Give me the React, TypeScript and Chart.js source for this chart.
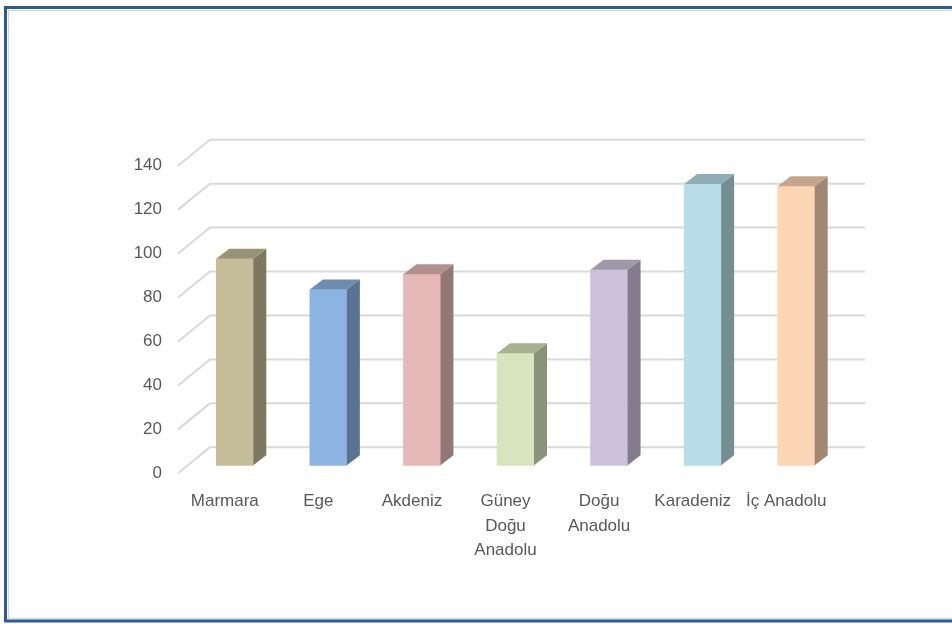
import React, { useEffect, useRef } from "react";
import { Chart, registerables } from "chart.js";

Chart.register(...registerables);

const categories: (string | string[])[] = [
  "Marmara",
  "Ege",
  "Akdeniz",
  ["Güney", "Doğu", "Anadolu"],
  ["Doğu", "Anadolu"],
  "Karadeniz",
  "İç Anadolu",
];
const values: number[] = [94, 80, 87, 51, 89, 128, 127];
const frontColors: string[] = [
  "#c4bd97",
  "#8db3e2",
  "#e6b9b8",
  "#d7e4bd",
  "#ccc1da",
  "#b7dee8",
  "#fcd5b5",
];
const yTicks: number[] = [0, 20, 40, 60, 80, 100, 120, 140];

// 3D geometry (pixels)
const WALL_DX = 32;
const WALL_DY = -26;
const BAR_SHIFT_X = 10;
const BAR_SHIFT_Y = -8;
const BAR_DX = 13;
const BAR_DY = -10;

function shade(hex: string, f: number): string {
  const n = parseInt(hex.slice(1), 16);
  const r = Math.round(((n >> 16) & 255) * f);
  const g = Math.round(((n >> 8) & 255) * f);
  const b = Math.round((n & 255) * f);
  return `rgb(${r},${g},${b})`;
}

const threeDPlugin = {
  id: "threeD",
  beforeDraw(chart: any) {
    const ctx = chart.ctx;
    ctx.save();
    ctx.fillStyle = "#ffffff";
    ctx.fillRect(0, 0, chart.width, chart.height);
    // frame
    ctx.strokeStyle = "#c9d5e6";
    ctx.lineWidth = 1;
    ctx.strokeRect(8.5, 10.5, 1000, 608);
    ctx.strokeStyle = "#2f5a91";
    ctx.lineWidth = 3;
    ctx.strokeRect(5.5, 7.5, 1000, 613.5);
    // walls / gridlines
    const y = chart.scales.y;
    const area = chart.chartArea;
    ctx.strokeStyle = "#d9d9d9";
    ctx.lineWidth = 2;
    for (const v of yTicks) {
      const py = y.getPixelForValue(v);
      ctx.beginPath();
      ctx.moveTo(area.left, py);
      ctx.lineTo(area.left + WALL_DX, py + WALL_DY);
      ctx.lineTo(area.right + WALL_DX, py + WALL_DY);
      ctx.stroke();
    }
    ctx.restore();
  },
  beforeDatasetsDraw(chart: any) {
    chart.ctx.save();
    chart.ctx.translate(BAR_SHIFT_X, BAR_SHIFT_Y);
  },
  afterDatasetsDraw(chart: any) {
    const ctx = chart.ctx;
    const meta = chart.getDatasetMeta(0);
    meta.data.forEach((bar: any, i: number) => {
      const { x, y, base, width } = bar.getProps(["x", "y", "base", "width"], true);
      const l = x - width / 2;
      const r = x + width / 2;
      const c = frontColors[i];
      // side face
      ctx.fillStyle = shade(c, 0.64);
      ctx.beginPath();
      ctx.moveTo(r, y);
      ctx.lineTo(r + BAR_DX, y + BAR_DY);
      ctx.lineTo(r + BAR_DX, base + BAR_DY);
      ctx.lineTo(r, base);
      ctx.closePath();
      ctx.fill();
      // top face
      ctx.fillStyle = shade(c, 0.78);
      ctx.beginPath();
      ctx.moveTo(l, y);
      ctx.lineTo(l + BAR_DX, y + BAR_DY);
      ctx.lineTo(r + BAR_DX, y + BAR_DY);
      ctx.lineTo(r, y);
      ctx.closePath();
      ctx.fill();
    });
    ctx.restore();
  },
};

export default function App() {
  const ref = useRef<HTMLCanvasElement | null>(null);
  useEffect(() => {
    if (!ref.current) return;
    const chart = new Chart(ref.current, {
      type: "bar",
      data: {
        labels: categories as any,
        datasets: [
          {
            data: values,
            backgroundColor: frontColors,
            barThickness: 37,
            borderWidth: 0,
            clip: false as any,
          },
        ],
      },
      options: {
        responsive: false,
        animation: false,
        devicePixelRatio: 1,
        layout: {
          padding: { left: 0, top: 165.7, right: 119, bottom: 624 - 473.3 - 100 },
        },
        plugins: {
          legend: { display: false },
          tooltip: { enabled: false },
        },
        scales: {
          x: {
            grid: { display: false, drawTicks: false },
            border: { display: false },
            ticks: {
              color: "#595959",
              font: { family: "Liberation Sans", size: 17, lineHeight: "24.5px" as any },
              padding: 16,
              maxRotation: 0,
              minRotation: 0,
              autoSkip: false,
            },
            afterFit(scale: any) {
              scale.height = 100;
            },
          },
          y: {
            min: 0,
            max: 140,
            grid: { display: false, drawTicks: false },
            border: { display: false },
            ticks: {
              stepSize: 20,
              color: "#595959",
              font: { family: "Liberation Sans", size: 17 },
              padding: 16,
            },
            afterFit(scale: any) {
              scale.width = 178;
            },
          },
        },
      },
      plugins: [threeDPlugin],
    });
    return () => chart.destroy();
  }, []);
  return (
    <div style={{ position: "absolute", left: 0, top: 0, width: 952, height: 624 }}>
      <canvas ref={ref} width={952} height={624} style={{ display: "block" }} />
    </div>
  );
}
